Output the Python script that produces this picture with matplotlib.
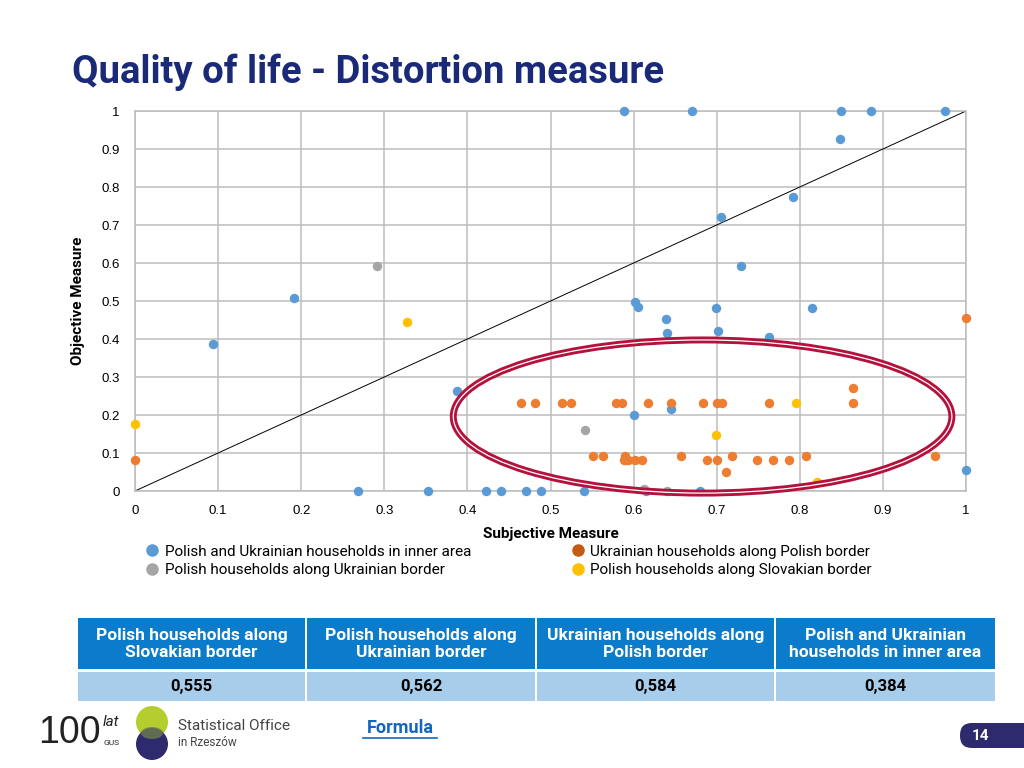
import matplotlib
matplotlib.use("Agg")
import matplotlib.pyplot as plt
from matplotlib import font_manager
from matplotlib.patches import Ellipse, Rectangle, FancyBboxPatch, Circle
from matplotlib.lines import Line2D

# ---------------- data ----------------
blue_x = [0.588, 0.670, 0.849, 0.886, 0.975, 0.848, 0.792, 0.705, 0.729, 0.191,
          0.602, 0.605, 0.699, 0.815, 0.639, 0.640, 0.702, 0.763, 0.094, 0.388,
          0.600, 0.645, 1.000, 0.268, 0.353, 0.422, 0.441, 0.471, 0.489, 0.540,
          0.615, 0.680]
blue_y = [1.0, 1.0, 1.0, 1.0, 1.0, 0.926, 0.775, 0.722, 0.592, 0.507,
          0.497, 0.483, 0.482, 0.482, 0.453, 0.416, 0.421, 0.404, 0.388, 0.263,
          0.201, 0.216, 0.055, 0.0, 0.0, 0.0, 0.0, 0.0, 0.0, 0.0,
          0.0, 0.0]

gray_x = [0.291, 0.541, 0.612, 0.640]
gray_y = [0.591, 0.161, 0.005, 0.0]

orange_x = [0.0, 0.464, 0.481, 0.514, 0.525, 0.579, 0.586, 0.617, 0.645, 0.684,
            0.700, 0.706, 0.763, 0.864, 0.864, 1.000, 0.551, 0.563, 0.590, 0.657,
            0.718, 0.807, 0.963, 0.588, 0.591, 0.593, 0.602, 0.610, 0.688, 0.700,
            0.749, 0.768, 0.787, 0.711]
orange_y = [0.081, 0.231, 0.231, 0.231, 0.231, 0.231, 0.231, 0.231, 0.231, 0.231,
            0.231, 0.231, 0.231, 0.270, 0.231, 0.455, 0.093, 0.093, 0.093, 0.093,
            0.093, 0.093, 0.093, 0.081, 0.081, 0.081, 0.081, 0.081, 0.081, 0.081,
            0.081, 0.081, 0.081, 0.051]

yellow_x = [0.0, 0.327, 0.796, 0.699, 0.821]
yellow_y = [0.176, 0.444, 0.231, 0.147, 0.025]

series_labels = ["Polish and Ukrainian households in inner area",
                 "Polish households along Ukrainian border",
                 "Ukrainian households along Polish border",
                 "Polish households along Slovakian border"]

ticks = [0, 0.1, 0.2, 0.3, 0.4, 0.5, 0.6, 0.7, 0.8, 0.9, 1]
tick_labels = ["0", "0.1", "0.2", "0.3", "0.4", "0.5", "0.6", "0.7", "0.8", "0.9", "1"]

table_headers = ["Polish households along\nSlovakian border",
                 "Polish households along\nUkrainian border",
                 "Ukrainian households along\nPolish border",
                 "Polish and Ukrainian\nhouseholds in inner area"]
table_values = ["0,555", "0,562", "0,584", "0,384"]

# ---------------- fonts ----------------
names = {f.name for f in font_manager.fontManager.ttflist}
cond = "Liberation Sans Narrow" if "Liberation Sans Narrow" in names else "Roboto"
arial = "Liberation Sans" if "Liberation Sans" in names else "DejaVu Sans"
plt.rcParams['font.family'] = [cond, 'DejaVu Sans']

C_BLUE = "#5b9bd5"
C_GRAY = "#a5a5a5"
C_ORANGE = "#ed7d31"
C_YELLOW = "#ffc000"
NAVY = "#1b2a78"

fig = plt.figure(figsize=(10.24, 7.68), dpi=100)
fig.patch.set_facecolor("white")

# overlay (pixel coordinates) for decorative elements
bg = fig.add_axes([0, 0, 1, 1], zorder=0)
bg.set_xlim(0, 1024)
bg.set_ylim(768, 0)
bg.axis("off")

# ---------------- scatter axes ----------------
ax = fig.add_axes([135 / 1024, 1 - 491 / 768, 831 / 1024, 380 / 768], zorder=2)
ax.set_xlim(0, 1)
ax.set_ylim(0, 1)
ax.set_xticks(ticks)
ax.set_yticks(ticks)
ax.set_xticklabels(tick_labels, family=arial, fontsize=9.5)
ax.set_yticklabels(tick_labels, family=arial, fontsize=9.5)
ax.tick_params(length=0)
ax.tick_params(axis='x', pad=10)
ax.tick_params(axis='y', pad=11)
ax.grid(True, color="#bdbdbd", linewidth=1.1)
ax.set_axisbelow(True)
for s in ax.spines.values():
    s.set_color("#bdbdbd")
    s.set_linewidth(1.1)

ax.plot([0, 1], [0, 1], color="black", linewidth=0.7, zorder=2)

kw = dict(s=46, linewidths=0, zorder=3, clip_on=False)
ax.scatter(blue_x, blue_y, color=C_BLUE, **kw)
ax.scatter(gray_x, gray_y, color=C_GRAY, **kw)
ax.scatter(orange_x, orange_y, color=C_ORANGE, **kw)
ax.scatter(yellow_x, yellow_y, color=C_YELLOW, **kw)

# highlight ellipse (double line)
for lw, col in [(5.0, "#b4123c"), (0.9, "white")]:
    ax.add_patch(Ellipse((0.683, 0.196), 0.600, 0.403, fill=False,
                         edgecolor=col, linewidth=lw, zorder=4, clip_on=False))

ax.set_xlabel("Subjective Measure", fontsize=11, fontweight="bold", labelpad=7)
ax.set_ylabel("Objective Measure", fontsize=11, fontweight="bold", labelpad=12)

# legend
handles = [Line2D([], [], marker='o', linestyle='', markersize=8, color=c)
           for c in [C_BLUE, C_GRAY, "#c55a11", C_YELLOW]]
fig.legend(handles, series_labels, ncol=2, frameon=False,
           loc="upper left", bbox_to_anchor=(131 / 1024, 1 - 531 / 768),
           fontsize=11, handletextpad=0.3, columnspacing=6.5, labelspacing=0.3,
           handlelength=1.0)

# ---------------- title ----------------
fig.text(72 / 1024, 1 - 72 / 768, "Quality of life - Distortion measure",
         fontsize=27.5, fontweight="bold", color=NAVY, va="center", ha="left")

# ---------------- table ----------------
cols = [77, 306, 536, 775, 996]
for i in range(4):
    x0, x1 = cols[i] + 1, cols[i + 1] - 1
    bg.add_patch(Rectangle((x0, 618), x1 - x0, 51, facecolor="#0b7bcb", edgecolor="none"))
    bg.add_patch(Rectangle((x0, 672), x1 - x0, 29, facecolor="#a7cdeb", edgecolor="none"))
    xc = (cols[i] + cols[i + 1]) / 2
    bg.text(xc, 644, table_headers[i], color="white", fontweight="bold", fontsize=12.5,
            ha="center", va="center", linespacing=1.2)
    bg.text(xc, 687, table_values[i], color="black", fontweight="bold", fontsize=12,
            ha="center", va="center")

# ---------------- footer ----------------
bg.text(38, 733, "100", fontsize=27, color="#222222", ha="left", va="center",
        family=arial, fontweight="light")
bg.text(103, 722, "lat", fontsize=11, color="#222222", ha="left", va="center",
        style="italic")
bg.text(104, 743, "GUS", fontsize=6, color="#222222", ha="left", va="center")
bg.add_patch(Circle((152, 722), 16, facecolor="#b6cd2f", edgecolor="none"))
bg.add_patch(Circle((152, 744), 16, facecolor="#2e2a6e", edgecolor="none"))
bg.add_patch(Ellipse((152, 733), 22, 12, facecolor="#6f7d4f", edgecolor="none",
                     hatch="////", alpha=0.8))
bg.text(178, 726, "Statistical Office", fontsize=11, color="#444444", ha="left",
        va="center")
bg.text(178, 743, "in Rzeszów", fontsize=8.5, color="#444444", ha="left", va="center")

bg.text(400, 728, "Formula", fontsize=13, fontweight="bold", color="#1565c0",
        ha="center", va="center")
bg.plot([363, 437], [738, 738], color="#1565c0", linewidth=1.2)

bg.add_patch(FancyBboxPatch((960, 723), 90, 25, boxstyle="round,pad=0,rounding_size=12",
                            facecolor="#2e2a6e", edgecolor="none"))
bg.text(980, 736, "14", fontsize=11, fontweight="bold", color="white",
        ha="center", va="center")

fig.savefig("out.png", dpi=100)
